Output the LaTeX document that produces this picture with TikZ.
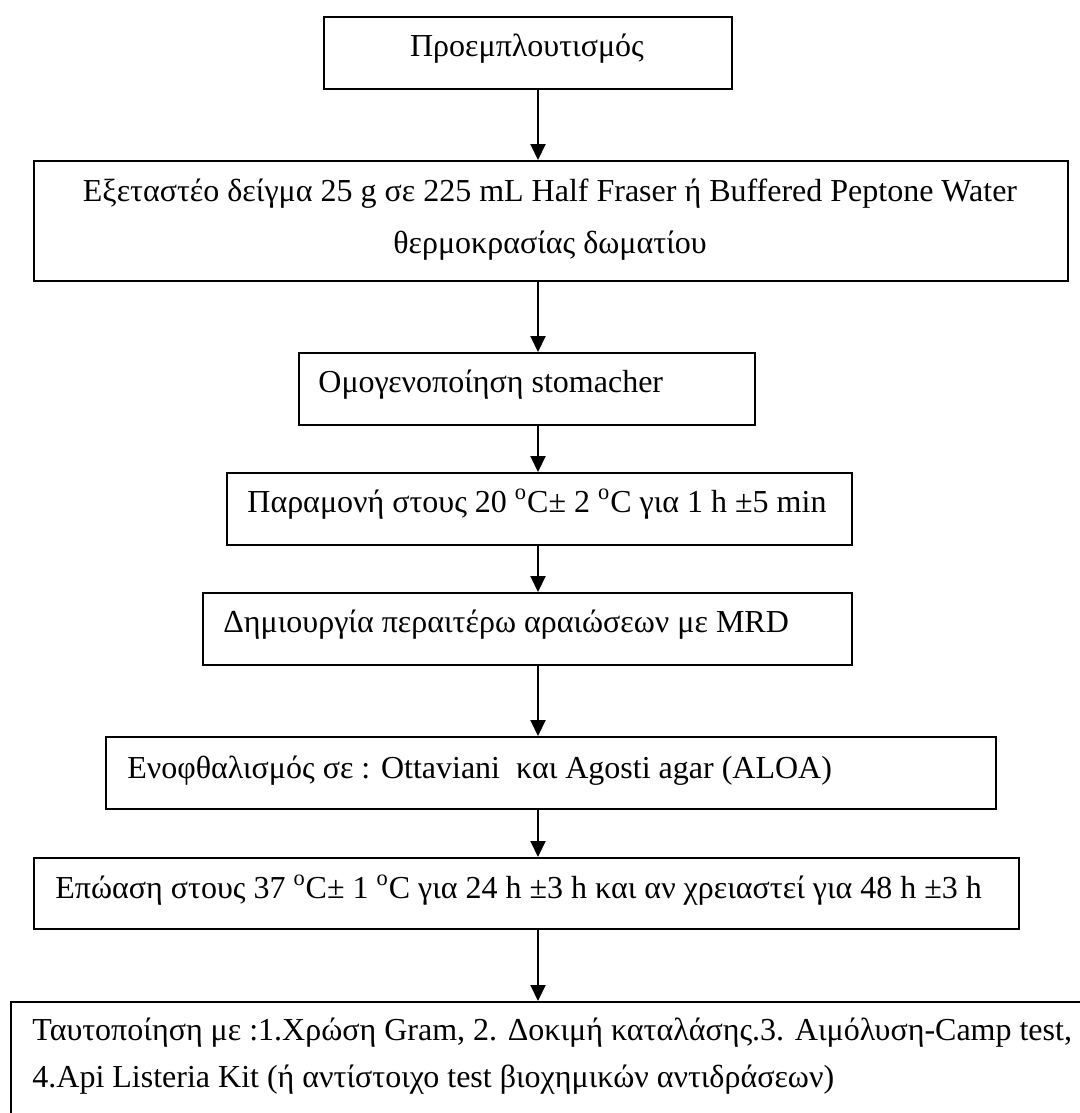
\documentclass[tikz,border=0pt]{standalone}
\usepackage{fontspec}
\setmainfont{Liberation Serif}
\usetikzlibrary{arrows.meta}

% one drawing unit = one pixel of the 1080 x 1113 sheet (0.5pt), y grows downwards
\newcommand{\dg}{\textsuperscript{o}}

\begin{document}
\begin{tikzpicture}[x=0.5pt, y=-0.5pt,
  stepbox/.style={draw, line width=1pt, rectangle, inner sep=0pt, anchor=north west},
  steptext/.style={inner sep=0pt, font=\fontsize{16}{16}\selectfont},
  flow/.style={draw, line width=1pt, -{Triangle[width=7.5pt, length=8pt]}}]

  \useasboundingbox (0,0) rectangle (1080,1113);
  \clip (0,0) rectangle (1080,1113);

  % process boxes
  \node[stepbox, minimum width=204pt,   minimum height=36pt]   (b1) at (323,16)  {};
  \node[stepbox, minimum width=517pt,   minimum height=60pt]   (b2) at (33,160)  {};
  \node[stepbox, minimum width=228pt,   minimum height=36pt]   (b3) at (298,352) {};
  \node[stepbox, minimum width=312.5pt, minimum height=36pt]   (b4) at (226,472) {};
  \node[stepbox, minimum width=324.5pt, minimum height=36pt]   (b5) at (202,592) {};
  \node[stepbox, minimum width=445pt,   minimum height=36pt]   (b6) at (105,736) {};
  \node[stepbox, minimum width=492.5pt, minimum height=35.5pt] (b7) at (33,857)  {};
  \node[stepbox, minimum width=560pt,   minimum height=80pt]   (b8) at (10,1001) {};

  % box texts
  \node[steptext, anchor=base] (t1) at (527,57) {Προεμπλουτισμός};
  \node[steptext, anchor=base] (t2a) at (550,201)
    {Εξεταστέο δείγμα 25 g σε 225 mL Half Fraser ή Buffered Peptone Water};
  \node[steptext, anchor=base] (t2b) at (550,253) {θερμοκρασίας δωματίου};
  \node[steptext, anchor=base west] (t3) at (318,392) {Ομογενοποίηση stomacher};
  \node[steptext, anchor=base west] (t4) at (247,512)
    {Παραμονή στους 20 \dg C± 2 \dg C για 1 h ±5 min};
  \node[steptext, anchor=base west] (t5) at (223,632)
    {Δημιουργία περαιτέρω αραιώσεων με MRD};
  \node[steptext, anchor=base west] (t6) at (127,778)
    {Ενοφθαλισμός σε : Ottaviani\ \ και Agosti agar (ALOA)};
  \node[steptext, anchor=base west] (t7) at (55,898)
    {Επώαση στους 37 \dg C± 1 \dg C για 24 h ±3 h και αν χρειαστεί για 48 h ±3 h};
  \node[steptext, anchor=base west] (t8a) at (32,1040)
    {Ταυτοποίηση με :1.Χρώση Gram, 2. Δοκιμή καταλάσης.3. Αιμόλυση-Camp test,};
  \node[steptext, anchor=base west] (t8b) at (32,1087)
    {4.Api Listeria Kit (ή αντίστοιχο test βιοχημικών αντιδράσεων)};

  % vertical flow line
  \coordinate (ax) at (538,0);
  \draw[flow] (b1.south -| ax) -- (b2.north -| ax);
  \draw[flow] (b2.south -| ax) -- (b3.north -| ax);
  \draw[flow] (b3.south -| ax) -- (b4.north -| ax);
  \draw[flow] (b4.south -| ax) -- (b5.north -| ax);
  \draw[flow] (b5.south -| ax) -- (b6.north -| ax);
  \draw[flow] (b6.south -| ax) -- (b7.north -| ax);
  \draw[flow] (b7.south -| ax) -- (b8.north -| ax);
\end{tikzpicture}
\end{document}
